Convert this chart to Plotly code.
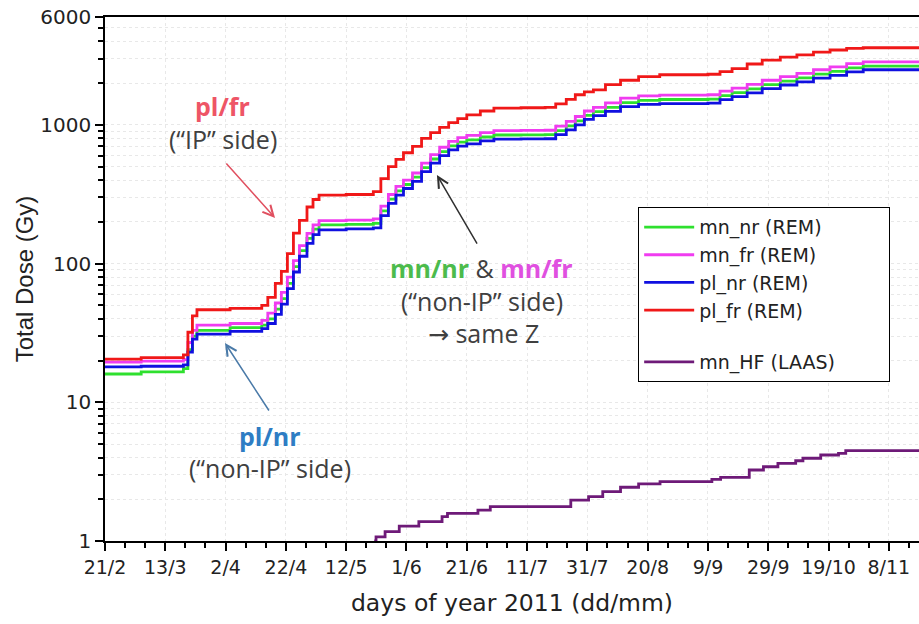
import plotly.graph_objects as go
import math

# Day of year 2011 for the REM dosimeter readings
days = [52, 64, 78, 79.5, 81, 82.5, 93.5, 104, 106, 108.5, 110.5, 112.5, 114.5, 116.5,
        119, 121, 123, 132, 141, 143.5, 146, 148.5, 151, 154, 157, 160, 163, 166, 169,
        172, 176.5, 181, 190, 198, 201.5, 205, 208, 211, 214, 218, 223, 229, 236, 252,
        256, 260, 265, 270, 276, 281.5, 287, 292.5, 298, 303.5, 322]

mn_nr = [16, 16.6, 17.5, 24, 30, 33, 34.5, 36, 40, 47, 56, 72, 95, 124, 152, 177, 190,
         192, 195, 240, 292, 335, 372, 420, 492, 568, 642, 706, 752, 780, 818, 846, 848,
         851, 910, 985, 1070, 1170, 1245, 1340, 1450, 1505, 1525, 1535, 1625, 1710, 1820,
         1950, 2070, 2185, 2325, 2435, 2575, 2650, 2670]

mn_fr = [19.5, 19.8, 20.3, 27, 33, 36, 37, 39, 44, 52, 62, 80, 105, 135, 165, 190, 204,
         206, 210, 260, 315, 360, 400, 450, 530, 610, 690, 760, 810, 840, 880, 910, 912,
         915, 980, 1060, 1150, 1260, 1340, 1440, 1560, 1620, 1640, 1650, 1750, 1840, 1960,
         2100, 2230, 2350, 2500, 2620, 2770, 2850, 2860]

pl_nr = [18, 18.2, 18.6, 23, 28.5, 31, 32.5, 34, 37, 43, 51, 66, 87, 113, 140, 162, 175,
         178, 181, 222, 272, 312, 348, 392, 460, 530, 600, 660, 703, 730, 768, 790, 792,
         795, 850, 922, 1000, 1095, 1165, 1252, 1355, 1408, 1425, 1435, 1520, 1600, 1705,
         1825, 1940, 2045, 2175, 2280, 2410, 2500, 2530]

pl_fr = [20.5, 21, 22, 32, 42, 46.5, 47.5, 50, 57, 72, 88, 118, 166, 205, 256, 290, 312,
         315, 330, 410, 500, 565, 630, 700, 800, 880, 960, 1040, 1110, 1180, 1260, 1320,
         1330, 1340, 1420, 1530, 1650, 1730, 1790, 1950, 2100, 2230, 2300, 2320, 2420,
         2550, 2750, 2930, 3080, 3200, 3350, 3470, 3560, 3600, 3620]

# LAAS high-flux sensor
hf_days = [141.3, 141.9, 144.9, 149.6, 156.1, 163.8, 165.6, 175.7, 179.8, 206.5, 212.4,
           217.1, 223.0, 229.0, 236.1, 253.3, 256.2, 265.7, 270.4, 275.2, 281.1, 283.5,
           289.4, 295.3, 297.7, 322]
mn_hf = [1.0, 1.07, 1.17, 1.28, 1.38, 1.50, 1.58, 1.67, 1.77, 1.97, 2.09, 2.27, 2.44,
         2.58, 2.68, 2.78, 2.88, 3.25, 3.43, 3.63, 3.79, 3.95, 4.17, 4.28, 4.48, 4.48]

tick_days = [52, 72, 92, 112, 132, 152, 172, 192, 212, 232, 252, 272, 292, 312]
tick_labels = ["21/2", "13/3", "2/4", "22/4", "12/5", "1/6", "21/6", "11/7", "31/7",
               "20/8", "9/9", "29/9", "19/10", "8/11"]
dose_ticks = [1, 10, 100, 1000, 6000]
dose_minor = [2, 3, 4, 5, 6, 7, 8, 9, 20, 30, 40, 50, 60, 70, 80, 90,
              200, 300, 400, 500, 600, 700, 800, 900, 2000, 3000, 4000, 5000]

series = [
    ("mn_nr (REM)", mn_nr, "#2ee02e"),
    ("mn_fr (REM)", mn_fr, "#f03cf0"),
    ("pl_nr (REM)", pl_nr, "#1010e0"),
    ("pl_fr (REM)", pl_fr, "#f01818"),
]

PAD = "\u00a0" * 8  # keeps the legend box wide

fig = go.Figure()
for name, vals, col in series:
    fig.add_trace(go.Scatter(x=days, y=vals, name=name + PAD, mode="lines",
                             line=dict(color=col, width=2.8, shape="hv"),
                             legendgroup="rem"))
fig.add_trace(go.Scatter(x=hf_days, y=mn_hf, name="mn_HF (LAAS)" + PAD, mode="lines",
                         line=dict(color="#6e1a78", width=2.8, shape="hv"),
                         legendgroup="laas"))

grid = "#e8e8e8"
fig.update_xaxes(
    range=[52, 322], showline=True, linecolor="black", linewidth=1.5, mirror=True,
    tickmode="array", tickvals=tick_days, ticktext=tick_labels,
    ticks="outside", ticklen=8, tickwidth=1.5, tickcolor="black",
    tickfont=dict(family="DejaVu Sans", size=19, color="#222"),
    showgrid=True, gridcolor=grid, griddash="dot", gridwidth=1,
    minor=dict(tick0=52, dtick=20 / 3, ticks="outside", ticklen=5, tickwidth=1.5,
               tickcolor="black", showgrid=False),
    zeroline=False,
    title=dict(text="days of year 2011 (dd/mm)", standoff=18,
               font=dict(family="DejaVu Sans", size=23.5, color="#222")),
)
fig.update_yaxes(
    type="log", range=[0, math.log10(6000)], showline=True, linecolor="black",
    linewidth=1.5, mirror=False,
    tickmode="array", tickvals=dose_ticks, ticktext=[str(v) for v in dose_ticks],
    ticks="outside", ticklen=8, tickwidth=1.5, tickcolor="black",
    tickfont=dict(family="DejaVu Sans", size=20, color="#222"),
    showgrid=True, gridcolor=grid, griddash="dot", gridwidth=1,
    minor=dict(tickmode="array", tickvals=dose_minor, ticks="outside", ticklen=5,
               tickwidth=1.5, tickcolor="black", showgrid=True, gridcolor=grid,
               griddash="dot"),
    zeroline=False,
    title=dict(text="Total Dose (Gy)", standoff=0,
               font=dict(family="Liberation Sans", size=24, color="#222")),
)

note_font = dict(family="Open Sans", size=25, color="#404040")
GREEN, MAGENTA, RED, BLUE = "#4cbb4c", "#e050e0", "#ee5566", "#2e7dc4"

# text labels, one annotation per line (x: day, y: log10 dose)
notes = [
    (91.1, 3.136, f"<b><span style='color:{RED}'>pl/fr</span></b>"),
    (91.1, 2.902, "(“IP” side)"),
    (177.0, 1.968, f"<b><span style='color:{GREEN}'>mn/nr</span></b> &amp; "
                   f"<b><span style='color:{MAGENTA}'>mn/fr</span></b>"),
    (177.0, 1.733, "(“non-IP” side)"),
    (177.5, 1.500, "<span style='font-family:DejaVu Sans'>→</span> same Z"),
    (106.7, 0.757, f"<b><span style='color:{BLUE}'>pl/nr</span></b>"),
    (106.7, 0.523, "(“non-IP” side)"),
]
for x, y, txt in notes:
    fig.add_annotation(x=x, y=y, xref="x", yref="y", showarrow=False, text=txt,
                       font=note_font, align="center", borderpad=0)

# arrows pointing at the curves
for tip, tail, col in [((108.4, 2.329), (91.8, 2.733), "#e05060"),
                       ((162.1, 2.639), (175.7, 2.134), "#303030"),
                       ((91.8, 1.428), (106.7, 0.930), "#4a7aa8")]:
    fig.add_annotation(x=tip[0], y=tip[1], ax=tail[0], ay=tail[1], xref="x", yref="y",
                       axref="x", ayref="y", text="", showarrow=True, arrowhead=5,
                       arrowsize=1.4, arrowwidth=1.5, arrowcolor=col)

fig.update_layout(
    width=919, height=624,
    margin=dict(l=105, r=0, t=17, b=83),
    paper_bgcolor="white", plot_bgcolor="white",
    showlegend=True,
    legend=dict(x=0.655, y=0.637, xanchor="left", yanchor="top",
                bgcolor="white", bordercolor="black", borderwidth=1,
                font=dict(family="DejaVu Sans", size=19, color="#222"),
                traceorder="grouped", tracegroupgap=24, itemwidth=50),
)

fig.write_html("out.html")
